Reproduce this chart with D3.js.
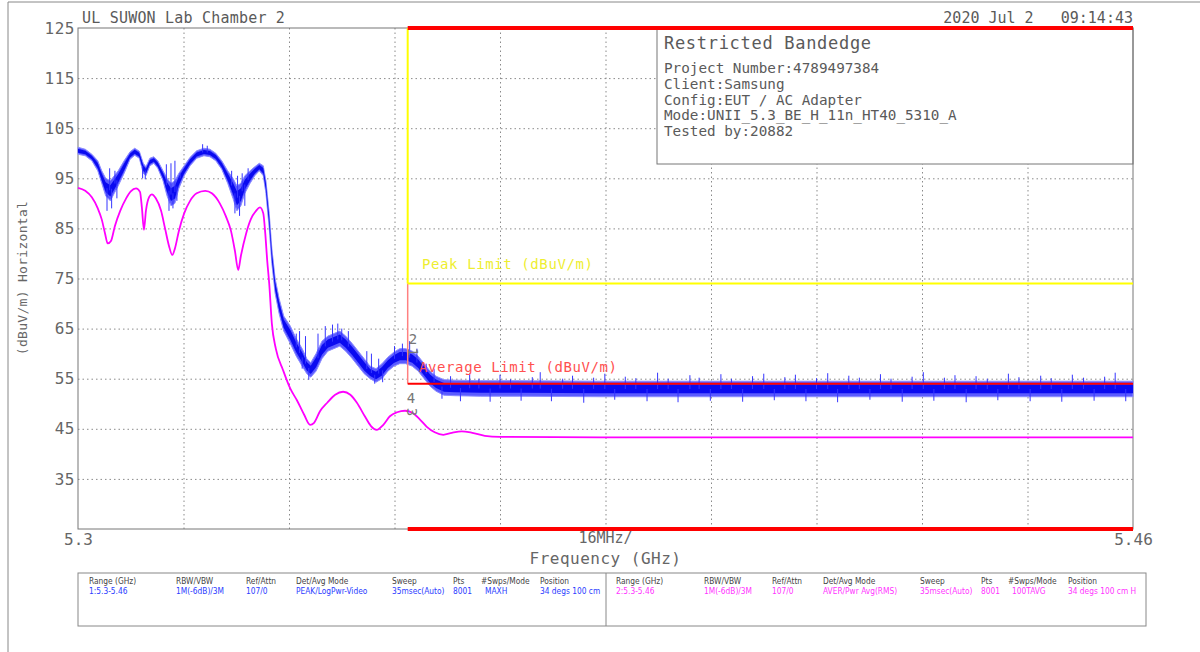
<!DOCTYPE html>
<html><head><meta charset="utf-8">
<script src="https://cdn.jsdelivr.net/npm/d3@7"></script>
<style>body{margin:0;background:#fff}svg{display:block}</style>
</head><body><svg id="c" width="1200" height="652"></svg>
<script>
// ---------- data ----------
const yTickValues = [35,45,55,65,75,85,95,105,115,125];
const xTickValues = [5300,5460];
const xTickLabels = ["5.3","5.46"];
const xGridValues = [5316,5332,5348,5364,5380,5396,5412,5428,5444];
const peakLimitValue = 74;
const avgLimitValue = 54;
const bandEdgeMHz = 5350;
// peak (MAXH) trace envelope: frequency (MHz), lower and upper edge (dBuV/m)
const peakMHz = [5300,5301.1,5302.1,5303.0,5303.6,5304.2,5304.9,5305.5,5306.1,5307.0,5307.9,5308.6,5309.3,5309.9,5310.3,5310.9,5311.5,5312.1,5312.9,5313.5,5314.1,5314.7,5315.3,5316.1,5317.0,5318.0,5319.1,5320.0,5320.9,5321.8,5322.7,5323.5,5324.1,5324.7,5325.3,5326.1,5326.8,5327.5,5328.1,5328.5,5329.0,5329.4,5329.9,5330.5,5331.2,5332.2,5333.1,5334.0,5334.7,5335.3,5336.1,5337.0,5337.9,5338.8,5339.7,5340.6,5341.6,5342.5,5343.4,5344.3,5345.2,5346.1,5347.0,5347.9,5348.8,5349.7,5350.7,5351.6,5352.5,5353.4,5354.3,5355.5,5357.2,5361.0,5367.0,5379.2,5394.3,5409.5,5424.7,5439.8,5460];
const peakLow  = [99.8,99.5,98.5,96.5,94.0,91.5,90.5,92.0,93.5,96.0,98.8,99.6,99.0,96.0,95.5,97.5,98.0,97.0,94.5,91.5,89.5,90.0,93.0,95.5,97.5,99.0,99.5,99.3,98.5,96.8,94.0,91.0,88.5,89.5,92.0,94.0,95.5,96.5,95.5,92.0,85.0,78.0,72.0,68.0,64.5,62.0,59.5,57.5,56.0,55.3,56.5,59.0,60.5,61.0,61.5,60.5,59.0,57.5,56.0,55.0,54.3,55.0,56.5,57.5,58.0,58.0,57.5,56.5,55.0,53.5,52.5,51.7,51.6,51.5,51.5,51.4,51.4,51.4,51.4,51.4,51.4];
const peakHigh = [101.2,100.8,99.8,98.5,96.5,95.0,94.5,95.5,96.5,98.5,100.3,101.0,100.4,98.0,97.3,99.0,99.3,98.5,96.5,95.0,94.0,94.5,96.0,97.5,99.2,100.5,101.0,100.8,100.0,98.5,96.5,95.0,93.5,94.0,95.5,96.5,97.3,98.0,97.5,94.5,88.0,81.0,75.0,71.0,67.5,65.5,63.0,61.0,59.0,58.2,60.0,62.5,63.5,64.0,64.5,63.5,62.0,60.5,59.0,57.5,57.0,58.0,59.3,60.3,61.0,61.0,60.5,59.5,58.0,56.5,55.5,54.8,54.7,54.6,54.6,54.5,54.5,54.5,54.5,54.5,54.5];
// isolated spikes on the peak trace
const spikeMHz = [5304.4,5304.8,5305.1,5305.6,5305.9,5309.8,5310.2,5313.4,5313.8,5314.1,5314.4,5314.7,5315.0,5315.5,5318.9,5319.6,5323.3,5323.8,5324.2,5324.5,5324.9,5325.3,5325.8,5333.1,5333.6,5334.0,5334.5,5335.0,5336.4,5337.5,5338.6,5339.4,5340.0,5341.0,5343.8,5344.5,5345.0,5345.6,5346.2,5348.0,5349.2,5350.3,5351.4,5352.8,5354.0,5355.2,5356.5,5358.0,5359.4,5360.8,5362.5,5364.0,5365.6,5367.2,5368.9,5370.1,5371.8,5373.5,5375.0,5376.7,5378.2,5379.9,5381.4,5383.0,5384.6,5386.3,5387.9,5389.5,5391.0,5392.8,5394.2,5395.9,5397.5,5399.1,5400.8,5402.3,5404.0,5405.6,5407.2,5408.8,5410.4,5412.0,5413.7,5415.2,5416.9,5418.5,5420.1,5421.7,5423.3,5425.0,5426.5,5428.2,5429.8,5431.4,5433.0,5434.7,5436.2,5437.9,5439.5,5441.1,5442.7,5444.4,5446.0,5447.6,5449.2,5450.8,5452.5,5454.1,5455.7,5457.3,5458.9];
const spikeDb  = [88.5,97.0,89.0,96.5,91.0,95.0,94.8,97.8,88.5,98.0,89.0,98.5,90.5,96.0,101.8,101.5,96.5,88.0,95.5,87.5,96.0,89.5,97.0,64.0,64.5,57.0,63.5,54.8,64.0,65.5,65.8,66.0,65.0,64.5,60.5,60.0,54.0,59.0,54.3,61.5,62.0,62.5,61.0,58.0,57.0,51.0,55.5,50.5,56.0,55.0,50.4,55.8,54.9,50.6,55.3,56.3,50.5,55.0,55.6,50.2,55.2,56.0,50.8,55.4,55.1,50.5,56.2,55.0,50.3,55.7,55.2,50.6,55.9,55.0,50.4,55.5,56.0,50.7,55.3,55.8,50.5,55.1,56.1,50.3,55.6,55.2,50.8,55.9,55.0,50.4,55.4,56.3,50.6,55.2,55.7,50.3,55.5,55.0,50.7,56.0,55.3,50.5,55.6,55.1,50.4,55.8,55.2,50.6,55.4,56.2,50.5];
// average (RMS) trace
const avgMHz = [5300,5301.1,5302.1,5303.0,5303.6,5304.1,5304.5,5305.0,5305.6,5306.4,5307.3,5308.0,5308.8,5309.4,5309.7,5310.0,5310.3,5310.8,5311.2,5311.8,5312.6,5313.2,5313.8,5314.3,5314.7,5315.3,5316.1,5317.0,5318.0,5319.3,5320.3,5321.5,5322.4,5323.2,5323.8,5324.3,5324.7,5325.5,5326.2,5327.0,5327.6,5328.1,5328.4,5328.7,5329.0,5329.4,5330.0,5331.1,5332.2,5333.2,5334.3,5335.2,5335.8,5336.7,5337.8,5339.0,5340.2,5341.3,5342.3,5343.5,5344.4,5345.3,5346.3,5347.3,5348.4,5349.6,5350.7,5351.9,5352.9,5354.1,5355.4,5356.7,5358.2,5359.8,5361.7,5364.0,5379.2,5409.5,5439.8,5460];
const avgDb  = [93.1,92.5,91.2,89.0,86.8,84.0,82.0,82.5,85.5,88.5,91.0,92.4,93.0,92.3,89.0,84.7,88.5,91.3,91.8,91.0,88.5,85.0,81.5,79.7,81.0,84.5,88.0,90.5,92.0,92.5,92.0,90.0,87.5,84.5,80.5,76.7,79.5,84.0,86.8,88.5,89.2,88.0,84.0,78.5,74.0,66.0,61.0,56.7,53.0,50.7,47.8,45.8,46.2,48.5,50.2,51.8,52.4,51.8,50.2,47.5,45.6,44.8,45.8,47.5,48.3,48.6,48.2,46.8,45.4,44.3,43.8,44.2,44.5,44.2,43.6,43.4,43.3,43.3,43.3,43.3];
const infoTitle = "Restricted Bandedge";
const infoLines = ["Project Number:4789497384","Client:Samsung","Config:EUT / AC Adapter","Mode:UNII_5.3_BE_H_11n_HT40_5310_A","Tested by:20882"];
const tableHeaders = ["Range (GHz)","RBW/VBW","Ref/Attn","Det/Avg Mode","Sweep","Pts","#Swps/Mode","Position"];
const trace1Values = ["1:5.3-5.46","1M(-6dB)/3M","107/0","PEAK/LogPwr-Video","35msec(Auto)","8001","MAXH","34 degs 100 cm"];
const trace2Values = ["2:5.3-5.46","1M(-6dB)/3M","107/0","AVER/Pwr Avg(RMS)","35msec(Auto)","8001","100TAVG","34 degs 100 cm H"];

// ---------- drawing ----------
const svg = d3.select("#c");
const L=78,R=1133,T=28,B=529;
const x = d3.scaleLinear().domain([5300,5460]).range([L,R]);
const y = d3.scaleLinear().domain([25,125]).range([B,T]);
const MONO = "'DejaVu Sans Mono', monospace";
const grey = "#5a5a5a";

// outer frame
svg.append("line").attr("x1",8).attr("x2",1200).attr("y1",2).attr("y2",2).attr("stroke","#888");
svg.append("line").attr("x1",8).attr("x2",8).attr("y1",2).attr("y2",652).attr("stroke","#888");

// grid
const dash = "1.5,3";
svg.append("g").attr("transform",`translate(${L},0)`)
  .call(d3.axisLeft(y).tickValues(yTickValues.filter(v=>v<125)).tickSize(-(R-L)).tickFormat(""))
  .call(g=>g.select(".domain").remove())
  .call(g=>g.selectAll("line").attr("stroke","#8a8a8a").attr("stroke-dasharray",dash));
svg.append("g").attr("transform",`translate(0,${B})`)
  .call(d3.axisBottom(x).tickValues(xGridValues).tickSize(-(B-T)).tickFormat(""))
  .call(g=>g.select(".domain").remove())
  .call(g=>g.selectAll("line").attr("stroke","#8a8a8a").attr("stroke-dasharray",dash));

// y labels
svg.append("g").attr("transform",`translate(${L-3},0)`)
  .call(d3.axisLeft(y).tickValues(yTickValues).tickSize(0).tickPadding(0))
  .call(g=>g.select(".domain").remove())
  .call(g=>g.selectAll("text").attr("font-family",MONO).attr("font-size",16).attr("fill","#666").attr("letter-spacing",0.5));

// x labels
svg.append("g").attr("transform",`translate(0,${B+1})`)
  .call(d3.axisBottom(x).tickValues(xTickValues).tickSize(0).tickPadding(0).tickFormat((d,i)=>xTickLabels[i]))
  .call(g=>g.select(".domain").remove())
  .call(g=>g.selectAll("text").attr("font-family",MONO).attr("font-size",16).attr("fill","#666").attr("dy","0.95em"));
svg.append("text").attr("x",x(5380)).attr("y",543).attr("text-anchor","middle")
  .attr("font-family",MONO).attr("font-size",15).attr("fill","#666").text("16MHz/");
svg.append("text").attr("x",x(5380)).attr("y",564).attr("text-anchor","middle")
  .attr("font-family",MONO).attr("font-size",16).attr("fill","#666").attr("letter-spacing",0.5).text("Frequency (GHz)");
svg.append("text").attr("transform","translate(27,278) rotate(-90)").attr("text-anchor","middle")
  .attr("font-family",MONO).attr("font-size",13).attr("fill","#666").attr("letter-spacing",0.3).text("(dBuV/m) Horizontal");

// title & date
svg.append("text").attr("x",82).attr("y",23).attr("font-family",MONO).attr("font-size",15).attr("fill",grey).attr("letter-spacing",0.2).text("UL SUWON Lab Chamber 2");
svg.append("text").attr("x",R).attr("y",23).attr("text-anchor","end").attr("font-family",MONO).attr("font-size",15).attr("fill",grey).attr("xml:space","preserve").text("2020 Jul 2   09:14:43");

// info box
svg.append("rect").attr("x",657).attr("y",T).attr("width",R-657).attr("height",136).attr("fill","#fff").attr("stroke","#777");
svg.append("text").attr("x",664).attr("y",49).attr("font-family",MONO).attr("font-size",17).attr("fill",grey).attr("letter-spacing",0.7).text(infoTitle);
svg.selectAll(".info").data(infoLines).join("text")
  .attr("x",664).attr("y",(d,i)=>73+i*15.8).attr("font-family",MONO).attr("font-size",14.3).attr("fill",grey).text(d=>d);

// plot frame
svg.append("rect").attr("x",L).attr("y",T).attr("width",R-L).attr("height",B-T).attr("fill","none").attr("stroke","#777");

// peak trace: light outer band, dense core, spikes
const peakData = peakMHz.map((f,i)=>({f,lo:peakLow[i],hi:peakHigh[i]}));
svg.append("path").datum(peakData)
  .attr("d",d3.area().x(d=>x(d.f)).y0(d=>y(d.lo)).y1(d=>y(d.hi)))
  .attr("fill","#5b5bff").attr("stroke","#8c8cff").attr("stroke-width",1);
svg.append("path").datum(peakData)
  .attr("d",d3.area().x(d=>x(d.f)).y0(d=>y(d.lo+(d.hi-d.lo)*0.22)).y1(d=>y(d.hi-(d.hi-d.lo)*0.22)))
  .attr("fill","#0a0af0");
const envAt = f=>{const i=d3.bisector(d=>d.f).left(peakData,f);const a=peakData[Math.max(0,i-1)],b=peakData[Math.min(peakData.length-1,i)];const t=b.f===a.f?0:(f-a.f)/(b.f-a.f);return {lo:a.lo+(b.lo-a.lo)*t,hi:a.hi+(b.hi-a.hi)*t};};
svg.append("g").selectAll("line").data(spikeMHz.map((f,i)=>({f,v:spikeDb[i]}))).join("line")
  .attr("x1",d=>x(d.f)).attr("x2",d=>x(d.f))
  .attr("y1",d=>y(d.v))
  .attr("y2",d=>{const e=envAt(d.f);return y((e.lo+e.hi)/2);})
  .attr("stroke","#3535ff").attr("stroke-width",1);

// average trace
svg.append("path").datum(avgMHz.map((f,i)=>({f,v:avgDb[i]})))
  .attr("d",d3.line().curve(d3.curveMonotoneX).x(d=>x(d.f)).y(d=>y(d.v)))
  .attr("fill","none").attr("stroke","#ff00ff").attr("stroke-width",1.8);

// limits
svg.append("line").attr("x1",x(bandEdgeMHz)).attr("x2",x(bandEdgeMHz)).attr("y1",y(125)).attr("y2",y(peakLimitValue)).attr("stroke","#ffff00").attr("stroke-width",2);
svg.append("line").attr("x1",x(bandEdgeMHz)).attr("x2",x(bandEdgeMHz)).attr("y1",y(peakLimitValue)).attr("y2",y(avgLimitValue)).attr("stroke","#ff8080").attr("stroke-width",1.5);
svg.append("line").attr("x1",x(bandEdgeMHz)).attr("x2",R).attr("y1",y(peakLimitValue)).attr("y2",y(peakLimitValue)).attr("stroke","#ffff00").attr("stroke-width",2);
svg.append("line").attr("x1",x(bandEdgeMHz)).attr("x2",R).attr("y1",y(avgLimitValue)).attr("y2",y(avgLimitValue)).attr("stroke","#ff0000").attr("stroke-width",2);
svg.append("line").attr("x1",x(bandEdgeMHz)).attr("x2",R).attr("y1",y(125)).attr("y2",y(125)).attr("stroke","#ff0000").attr("stroke-width",4);
svg.append("line").attr("x1",x(bandEdgeMHz)).attr("x2",R).attr("y1",y(25)).attr("y2",y(25)).attr("stroke","#ff0000").attr("stroke-width",4);
svg.append("text").attr("x",422).attr("y",269).attr("font-family",MONO).attr("font-size",14).attr("fill","#eeee30").attr("letter-spacing",0.6).text("Peak Limit (dBuV/m)");
svg.append("text").attr("x",419).attr("y",372).attr("font-family",MONO).attr("font-size",14).attr("fill","#ff5050").attr("letter-spacing",0.6).text("Average Limit (dBuV/m)");

// markers
const mk = (t,xx,yy,rot)=>svg.append("text").attr("transform",`translate(${xx},${yy}) rotate(${rot})`).attr("text-anchor","middle")
  .attr("font-family",MONO).attr("font-size",14).attr("fill","#777").text(t);
mk("2",413,344,0); mk("1",408,352,90); mk("4",411,403,0); mk("3",407,412,90);

// bottom table
const tb = svg.append("g");
tb.append("rect").attr("x",78).attr("y",573).attr("width",1068).attr("height",53).attr("fill","none").attr("stroke","#888");
tb.append("line").attr("x1",606).attr("x2",606).attr("y1",573).attr("y2",626).attr("stroke","#888");
const colL=[89,176,246,296,392,453,481,540];
const colR=[616,704,772,823,920,981,1008,1068];
const TF="'DejaVu Sans Condensed','Liberation Sans Narrow',sans-serif";
[[colL,trace1Values,"#2a3cff"],[colR,trace2Values,"#ff33ff"]].forEach(([cols,vals,col])=>{
  tb.selectAll(null).data(tableHeaders).join("text").attr("x",(d,i)=>cols[i]).attr("y",584)
    .attr("font-family",TF).attr("font-size",8.3).attr("fill","#444").text(d=>d);
  tb.selectAll(null).data(vals).join("text").attr("x",(d,i)=>cols[i]+(i===6?4:0)).attr("y",594)
    .attr("font-family",TF).attr("font-size",8.3).attr("fill",col).text(d=>d);
});
</script></body></html>
